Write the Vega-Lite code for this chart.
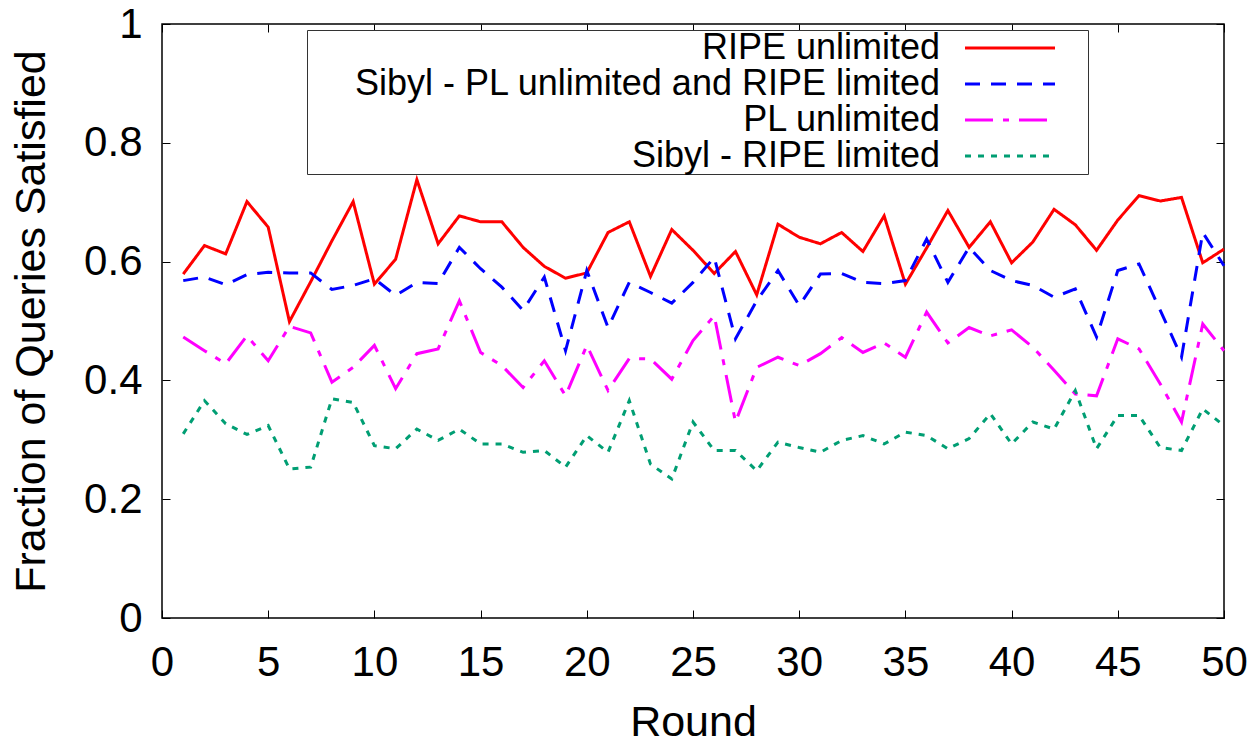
{
  "$schema": "https://vega.github.io/schema/vega-lite/v6.json",
  "width": 1062,
  "height": 594,
  "autosize": "none",
  "padding": {"left": 162, "top": 24, "right": 34, "bottom": 127},
  "background": "white",
  "config": {
    "font": "Liberation Sans",
    "view": {"stroke": "black", "strokeWidth": 1.5},
    "axis": {"grid": false, "domain": false, "tickColor": "black", "tickSize": -8, "tickWidth": 1, "labelColor": "black", "titleColor": "black", "labelFontSize": 42, "titleFontSize": 43, "titleFontWeight": "normal", "labelFont": "Liberation Sans", "titleFont": "Liberation Sans"},
    "legend": {"orient": "none", "legendX": 145, "legendY": 6, "strokeColor": "#333333", "fillColor": "white", "padding": 0, "labelFontSize": 36, "labelColor": "black", "labelAlign": "right", "labelOffset": -88, "symbolOffset": 685, "symbolType": "M-3,0H3M4.8,0L4.8,0", "symbolSize": 900, "symbolStrokeWidth": 3, "labelLimit": 1000, "rowPadding": 0, "title": null}
  },
  "data": {"values": [
    {"Round": 1, "RIPE unlimited": 0.579, "Sibyl - PL unlimited and RIPE limited": 0.568, "PL unlimited": 0.473, "Sibyl - RIPE limited": 0.310},
    {"Round": 2, "RIPE unlimited": 0.627, "Sibyl - PL unlimited and RIPE limited": 0.574, "PL unlimited": 0.450, "Sibyl - RIPE limited": 0.366},
    {"Round": 3, "RIPE unlimited": 0.613, "Sibyl - PL unlimited and RIPE limited": 0.561, "PL unlimited": 0.428, "Sibyl - RIPE limited": 0.327},
    {"Round": 4, "RIPE unlimited": 0.701, "Sibyl - PL unlimited and RIPE limited": 0.578, "PL unlimited": 0.475, "Sibyl - RIPE limited": 0.309},
    {"Round": 5, "RIPE unlimited": 0.658, "Sibyl - PL unlimited and RIPE limited": 0.582, "PL unlimited": 0.433, "Sibyl - RIPE limited": 0.324},
    {"Round": 6, "RIPE unlimited": 0.499, "Sibyl - PL unlimited and RIPE limited": 0.581, "PL unlimited": 0.491, "Sibyl - RIPE limited": 0.251},
    {"Round": 7, "RIPE unlimited": 0.566, "Sibyl - PL unlimited and RIPE limited": 0.581, "PL unlimited": 0.480, "Sibyl - RIPE limited": 0.254},
    {"Round": 8, "RIPE unlimited": 0.635, "Sibyl - PL unlimited and RIPE limited": 0.553, "PL unlimited": 0.397, "Sibyl - RIPE limited": 0.369},
    {"Round": 9, "RIPE unlimited": 0.701, "Sibyl - PL unlimited and RIPE limited": 0.560, "PL unlimited": 0.422, "Sibyl - RIPE limited": 0.363},
    {"Round": 10, "RIPE unlimited": 0.562, "Sibyl - PL unlimited and RIPE limited": 0.571, "PL unlimited": 0.459, "Sibyl - RIPE limited": 0.290},
    {"Round": 11, "RIPE unlimited": 0.604, "Sibyl - PL unlimited and RIPE limited": 0.543, "PL unlimited": 0.386, "Sibyl - RIPE limited": 0.285},
    {"Round": 12, "RIPE unlimited": 0.738, "Sibyl - PL unlimited and RIPE limited": 0.565, "PL unlimited": 0.445, "Sibyl - RIPE limited": 0.318},
    {"Round": 13, "RIPE unlimited": 0.630, "Sibyl - PL unlimited and RIPE limited": 0.563, "PL unlimited": 0.453, "Sibyl - RIPE limited": 0.299},
    {"Round": 14, "RIPE unlimited": 0.677, "Sibyl - PL unlimited and RIPE limited": 0.624, "PL unlimited": 0.534, "Sibyl - RIPE limited": 0.318},
    {"Round": 15, "RIPE unlimited": 0.667, "Sibyl - PL unlimited and RIPE limited": 0.588, "PL unlimited": 0.447, "Sibyl - RIPE limited": 0.293},
    {"Round": 16, "RIPE unlimited": 0.667, "Sibyl - PL unlimited and RIPE limited": 0.557, "PL unlimited": 0.425, "Sibyl - RIPE limited": 0.293},
    {"Round": 17, "RIPE unlimited": 0.624, "Sibyl - PL unlimited and RIPE limited": 0.518, "PL unlimited": 0.388, "Sibyl - RIPE limited": 0.279},
    {"Round": 18, "RIPE unlimited": 0.592, "Sibyl - PL unlimited and RIPE limited": 0.574, "PL unlimited": 0.433, "Sibyl - RIPE limited": 0.282},
    {"Round": 19, "RIPE unlimited": 0.572, "Sibyl - PL unlimited and RIPE limited": 0.450, "PL unlimited": 0.374, "Sibyl - RIPE limited": 0.254},
    {"Round": 20, "RIPE unlimited": 0.581, "Sibyl - PL unlimited and RIPE limited": 0.585, "PL unlimited": 0.459, "Sibyl - RIPE limited": 0.307},
    {"Round": 21, "RIPE unlimited": 0.649, "Sibyl - PL unlimited and RIPE limited": 0.489, "PL unlimited": 0.383, "Sibyl - RIPE limited": 0.279},
    {"Round": 22, "RIPE unlimited": 0.667, "Sibyl - PL unlimited and RIPE limited": 0.565, "PL unlimited": 0.437, "Sibyl - RIPE limited": 0.366},
    {"Round": 23, "RIPE unlimited": 0.575, "Sibyl - PL unlimited and RIPE limited": 0.548, "PL unlimited": 0.436, "Sibyl - RIPE limited": 0.259},
    {"Round": 24, "RIPE unlimited": 0.654, "Sibyl - PL unlimited and RIPE limited": 0.530, "PL unlimited": 0.402, "Sibyl - RIPE limited": 0.234},
    {"Round": 25, "RIPE unlimited": 0.619, "Sibyl - PL unlimited and RIPE limited": 0.565, "PL unlimited": 0.467, "Sibyl - RIPE limited": 0.330},
    {"Round": 26, "RIPE unlimited": 0.580, "Sibyl - PL unlimited and RIPE limited": 0.607, "PL unlimited": 0.509, "Sibyl - RIPE limited": 0.282},
    {"Round": 27, "RIPE unlimited": 0.617, "Sibyl - PL unlimited and RIPE limited": 0.470, "PL unlimited": 0.330, "Sibyl - RIPE limited": 0.282},
    {"Round": 28, "RIPE unlimited": 0.544, "Sibyl - PL unlimited and RIPE limited": 0.534, "PL unlimited": 0.422, "Sibyl - RIPE limited": 0.248},
    {"Round": 29, "RIPE unlimited": 0.663, "Sibyl - PL unlimited and RIPE limited": 0.585, "PL unlimited": 0.439, "Sibyl - RIPE limited": 0.296},
    {"Round": 30, "RIPE unlimited": 0.641, "Sibyl - PL unlimited and RIPE limited": 0.526, "PL unlimited": 0.425, "Sibyl - RIPE limited": 0.287},
    {"Round": 31, "RIPE unlimited": 0.630, "Sibyl - PL unlimited and RIPE limited": 0.579, "PL unlimited": 0.445, "Sibyl - RIPE limited": 0.279},
    {"Round": 32, "RIPE unlimited": 0.649, "Sibyl - PL unlimited and RIPE limited": 0.580, "PL unlimited": 0.472, "Sibyl - RIPE limited": 0.299},
    {"Round": 33, "RIPE unlimited": 0.617, "Sibyl - PL unlimited and RIPE limited": 0.565, "PL unlimited": 0.447, "Sibyl - RIPE limited": 0.307},
    {"Round": 34, "RIPE unlimited": 0.677, "Sibyl - PL unlimited and RIPE limited": 0.563, "PL unlimited": 0.463, "Sibyl - RIPE limited": 0.293},
    {"Round": 35, "RIPE unlimited": 0.562, "Sibyl - PL unlimited and RIPE limited": 0.568, "PL unlimited": 0.439, "Sibyl - RIPE limited": 0.313},
    {"Round": 36, "RIPE unlimited": 0.623, "Sibyl - PL unlimited and RIPE limited": 0.638, "PL unlimited": 0.515, "Sibyl - RIPE limited": 0.307},
    {"Round": 37, "RIPE unlimited": 0.686, "Sibyl - PL unlimited and RIPE limited": 0.565, "PL unlimited": 0.463, "Sibyl - RIPE limited": 0.285},
    {"Round": 38, "RIPE unlimited": 0.624, "Sibyl - PL unlimited and RIPE limited": 0.624, "PL unlimited": 0.489, "Sibyl - RIPE limited": 0.302},
    {"Round": 39, "RIPE unlimited": 0.667, "Sibyl - PL unlimited and RIPE limited": 0.585, "PL unlimited": 0.475, "Sibyl - RIPE limited": 0.344},
    {"Round": 40, "RIPE unlimited": 0.598, "Sibyl - PL unlimited and RIPE limited": 0.568, "PL unlimited": 0.485, "Sibyl - RIPE limited": 0.293},
    {"Round": 41, "RIPE unlimited": 0.633, "Sibyl - PL unlimited and RIPE limited": 0.560, "PL unlimited": 0.456, "Sibyl - RIPE limited": 0.330},
    {"Round": 42, "RIPE unlimited": 0.688, "Sibyl - PL unlimited and RIPE limited": 0.540, "PL unlimited": 0.417, "Sibyl - RIPE limited": 0.318},
    {"Round": 43, "RIPE unlimited": 0.662, "Sibyl - PL unlimited and RIPE limited": 0.554, "PL unlimited": 0.377, "Sibyl - RIPE limited": 0.383},
    {"Round": 44, "RIPE unlimited": 0.619, "Sibyl - PL unlimited and RIPE limited": 0.473, "PL unlimited": 0.374, "Sibyl - RIPE limited": 0.285},
    {"Round": 45, "RIPE unlimited": 0.670, "Sibyl - PL unlimited and RIPE limited": 0.585, "PL unlimited": 0.470, "Sibyl - RIPE limited": 0.341},
    {"Round": 46, "RIPE unlimited": 0.711, "Sibyl - PL unlimited and RIPE limited": 0.596, "PL unlimited": 0.453, "Sibyl - RIPE limited": 0.341},
    {"Round": 47, "RIPE unlimited": 0.702, "Sibyl - PL unlimited and RIPE limited": 0.518, "PL unlimited": 0.394, "Sibyl - RIPE limited": 0.287},
    {"Round": 48, "RIPE unlimited": 0.708, "Sibyl - PL unlimited and RIPE limited": 0.439, "PL unlimited": 0.330, "Sibyl - RIPE limited": 0.282},
    {"Round": 49, "RIPE unlimited": 0.598, "Sibyl - PL unlimited and RIPE limited": 0.649, "PL unlimited": 0.495, "Sibyl - RIPE limited": 0.352},
    {"Round": 50, "RIPE unlimited": 0.621, "Sibyl - PL unlimited and RIPE limited": 0.593, "PL unlimited": 0.450, "Sibyl - RIPE limited": 0.324}
  ]},
  "transform": [
    {"fold": ["RIPE unlimited", "Sibyl - PL unlimited and RIPE limited", "PL unlimited", "Sibyl - RIPE limited"], "as": ["series", "value"]}
  ],
  "layer": [
    {
      "mark": {"type": "line", "strokeWidth": 3},
      "encoding": {
        "x": {"field": "Round", "type": "quantitative", "scale": {"domain": [0, 50], "nice": false},
              "axis": {"values": [0, 5, 10, 15, 20, 25, 30, 35, 40, 45, 50], "title": "Round", "labelPadding": 32, "titlePadding": 18, "labelFlush": false}},
        "y": {"field": "value", "type": "quantitative", "scale": {"domain": [0, 1], "nice": false},
              "axis": {"values": [0, 0.2, 0.4, 0.6, 0.8, 1], "format": "~g", "title": "Fraction of Queries Satisfied", "labelPadding": 28, "titlePadding": 30, "labelFlush": false}},
        "color": {"field": "series", "type": "nominal",
                  "scale": {"domain": ["RIPE unlimited", "Sibyl - PL unlimited and RIPE limited", "PL unlimited", "Sibyl - RIPE limited"], "range": ["#ff0000", "#0000ff", "#ff00ff", "#009e73"]}},
        "strokeDash": {"field": "series", "type": "nominal",
                  "scale": {"domain": ["RIPE unlimited", "Sibyl - PL unlimited and RIPE limited", "PL unlimited", "Sibyl - RIPE limited"], "range": [[1, 0], [15, 11], [28, 10, 6, 10], [6, 7]]}}
      }
    },
    {
      "mark": {"type": "point", "opacity": 0},
      "encoding": {
        "x": {"field": "Round", "type": "quantitative", "axis": {"orient": "top", "values": [0, 5, 10, 15, 20, 25, 30, 35, 40, 45, 50], "labels": false, "title": null}},
        "y": {"field": "value", "type": "quantitative", "axis": {"orient": "right", "values": [0, 0.2, 0.4, 0.6, 0.8, 1], "labels": false, "title": null}}
      }
    }
  ],
  "resolve": {"axis": {"x": "independent", "y": "independent"}}
}
